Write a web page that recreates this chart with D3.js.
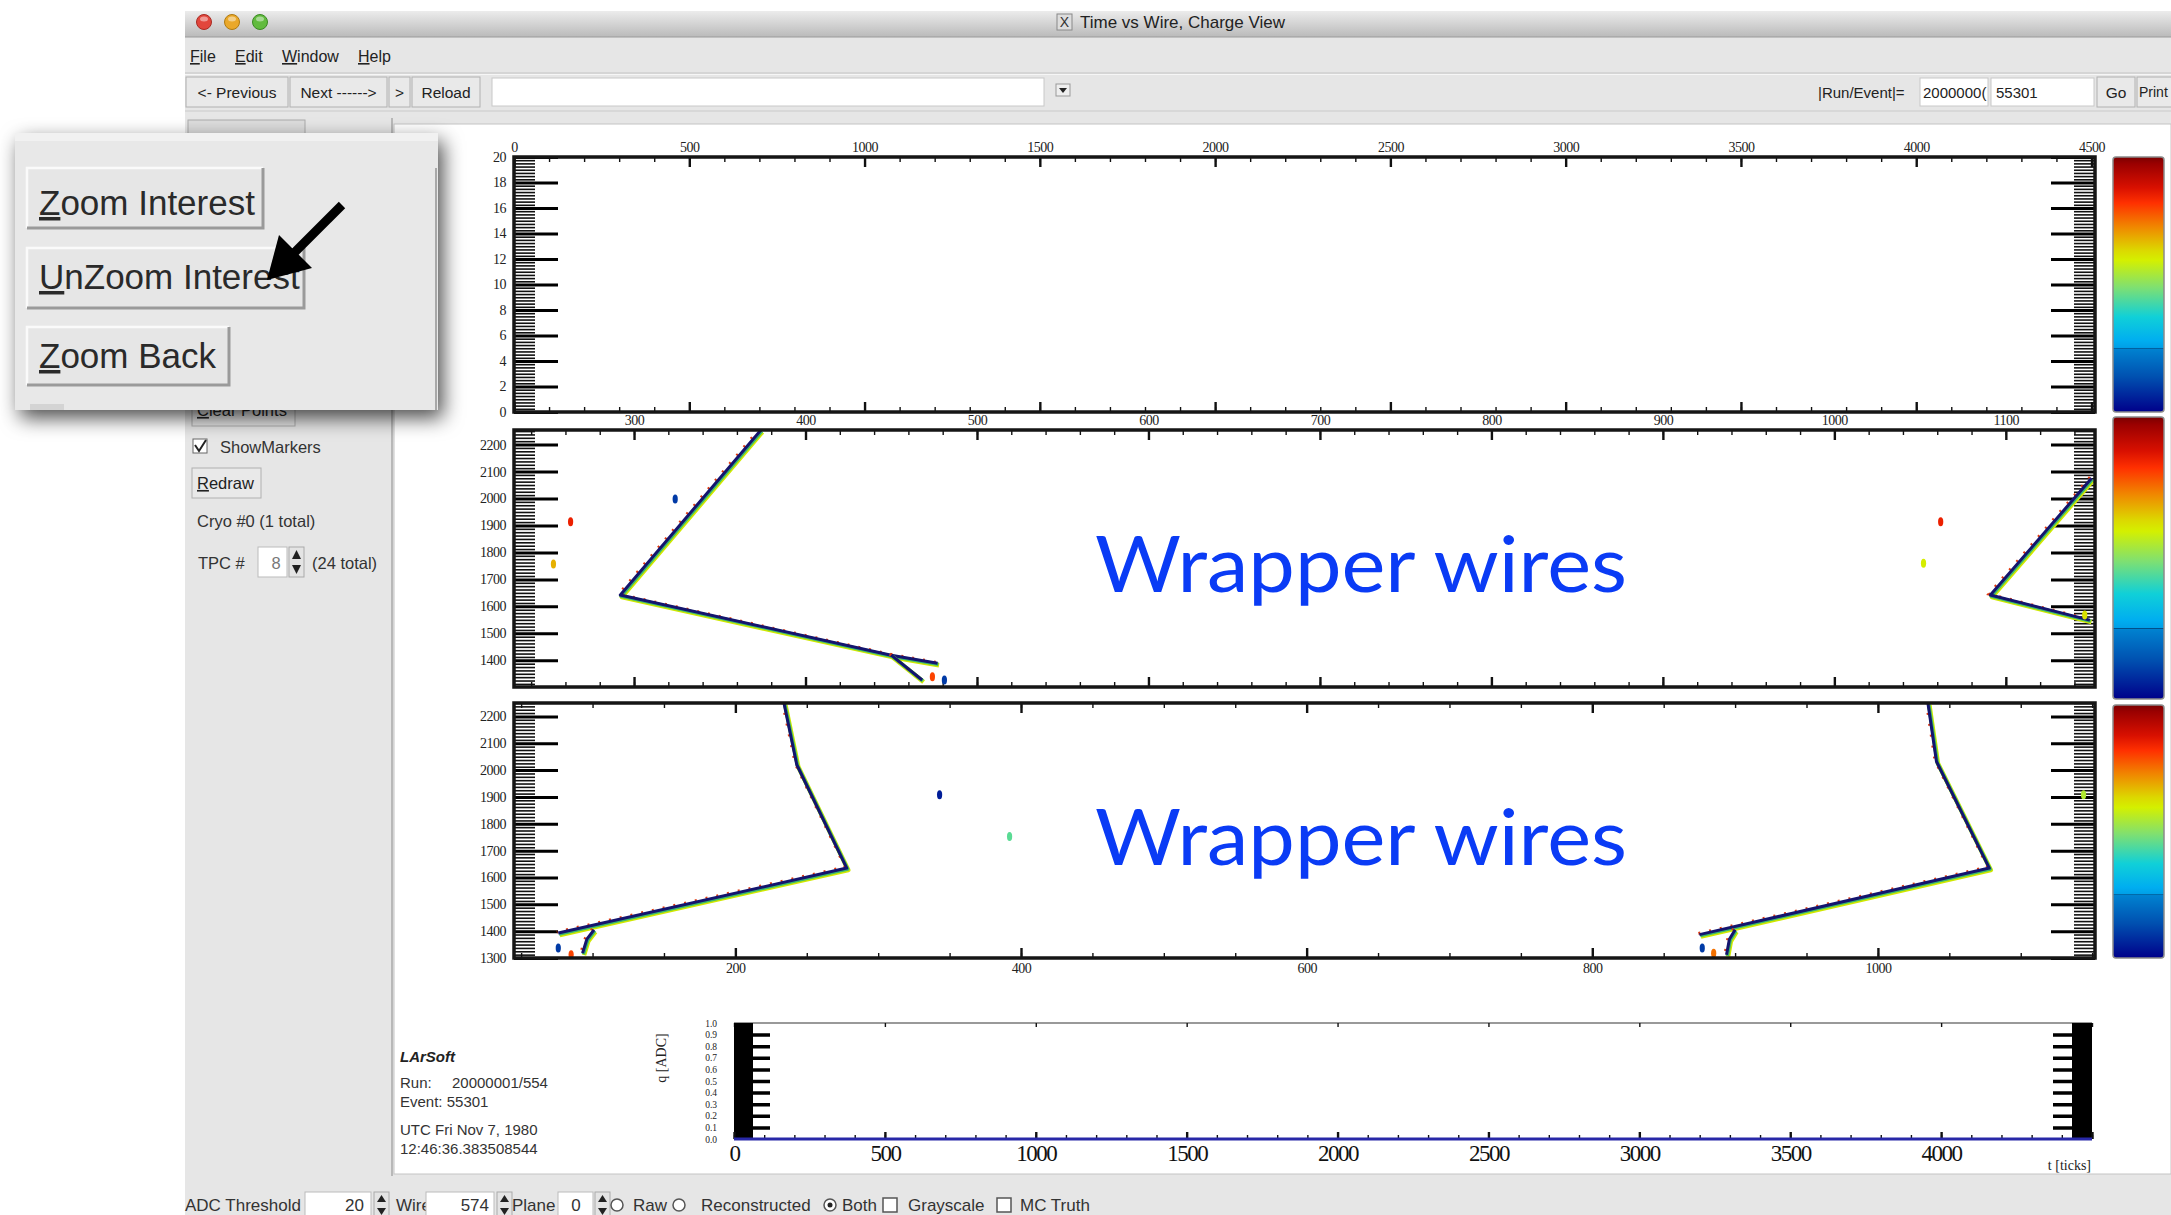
<!DOCTYPE html>
<html>
<head>
<meta charset="utf-8">
<title>Time vs Wire, Charge View</title>
<script src="https://d3js.org/d3.v7.min.js"></script>
<style>
  body { margin: 0; background: #fff; }
  svg { display: block; font-family: "Liberation Sans", Arial, sans-serif; }
  .minor line { stroke: #111; stroke-width: 1.4; }
  .major line { stroke: #111; stroke-width: 2.4; }
  .comb line { stroke: #111; stroke-width: 1.6; }
  .combmaj line { stroke: #000; stroke-width: 3; }
  .lbl text { font-family: "Liberation Serif", serif; font-size: 14px; fill: #222; letter-spacing: -0.5px; }
  .adclbl text { font-family: "Liberation Serif", serif; font-size: 23px; fill: #111; letter-spacing: -1.5px; }
  .adcy text { font-family: "Liberation Serif", serif; font-size: 9.5px; fill: #222; }
  .bar line { stroke: #000; stroke-width: 3.5; }
</style>
</head>
<body>
<svg id="view" width="2171" height="1215"></svg>
<script>
// ---- values ----
var menuItems = ["File", "Edit", "Window", "Help"];
var navButtons = ["<- Previous", "Next ------>", ">", "Reload"];
var zoomButtons = ["Zoom Interest", "UnZoom Interest", "Zoom Back"];
var infoLines = ["Run:", "Event: 55301", "UTC Fri Nov 7, 1980", "12:46:36.383508544"];

var tickAxisValues = [0, 500, 1000, 1500, 2000, 2500, 3000, 3500, 4000, 4500];
var emptyWireValues = [0, 2, 4, 6, 8, 10, 12, 14, 16, 18, 20];
var midWireValues = [300, 400, 500, 600, 700, 800, 900, 1000, 1100];
var midTimeValues = [1400, 1500, 1600, 1700, 1800, 1900, 2000, 2100, 2200];
var botWireValues = [200, 400, 600, 800, 1000];
var botTimeValues = [1300, 1400, 1500, 1600, 1700, 1800, 1900, 2000, 2100, 2200];
var adcTimeValues = [0, 500, 1000, 1500, 2000, 2500, 3000, 3500, 4000];
var adcChargeValues = [0, 0.1, 0.2, 0.3, 0.4, 0.5, 0.6, 0.7, 0.8, 0.9, 1.0];

// hit tracks, [wire, tick]
var midTrackA = [[374, 2254], [292, 1642], [450, 1419], [477, 1389]];
var midTrackB = [[450, 1419], [468, 1327]];
var midTrackC = [[1150, 2075], [1091, 1642], [1149, 1549]];
var botTrackA = [[234, 2250], [243, 2020], [278, 1635], [76, 1393]];
var botTrackB = [[101, 1405], [96, 1370], [93, 1318]];
var botTrackC = [[1035, 2250], [1041, 2032], [1078, 1635], [875, 1387]];
var botTrackD = [[900, 1405], [896, 1370], [894, 1312]];

// isolated hits, [wire, tick, charge 0..1]
var midHits = [[263, 1914, 0.85], [253, 1757, 0.68], [324, 1998, 0.1], [1062, 1914, 0.85],
               [1052, 1760, 0.6], [474, 1339, 0.8], [481, 1327, 0.1], [1146, 1568, 0.62]];
var botHits = [[343, 1908, 0.05], [392, 1753, 0.45], [76, 1337, 0.1], [85, 1312, 0.8],
               [877, 1337, 0.1], [885, 1318, 0.75], [1144, 1908, 0.55]];

// charge waveform on the selected wire (flat)
var adcWave = [[0, 0], [4500, 0]];

// colour palette, charge value -> colour
var paletteStops = [0, 0.137, 0.247, 0.25, 0.253, 0.28, 0.373, 0.49, 0.595, 0.634, 0.725, 0.82, 0.88, 0.974, 1];
var paletteColors = ["#00008a", "#0050b0", "#0082d0", "#00508a", "#00a0e8", "#00aef0", "#10d0d8", "#80e070",
                     "#d4f000", "#dcd800", "#f08800", "#ff3000", "#d81000", "#9a0000", "#7a0000"];

var palette = d3.scaleLinear().domain(paletteStops).range(paletteColors).clamp(true);
var intFmt = d3.format("d");

var svg = d3.select("#view");
var defs = svg.append("defs");

// ---- window chrome ----
svg.append("rect").attr("width", 2171).attr("height", 1215).attr("fill", "#fff");
svg.append("rect").attr("x", 185).attr("y", 11).attr("width", 1986).attr("height", 1204).attr("fill", "#e6e6e6");

var tg = defs.append("linearGradient").attr("id", "titleGrad").attr("x1", 0).attr("x2", 0).attr("y1", 0).attr("y2", 1);
tg.append("stop").attr("offset", "0%").attr("stop-color", "#ececec");
tg.append("stop").attr("offset", "100%").attr("stop-color", "#bababa");
svg.append("rect").attr("x", 185).attr("y", 11).attr("width", 1986).attr("height", 26).attr("fill", "url(#titleGrad)");
svg.append("line").attr("x1", 185).attr("x2", 2171).attr("y1", 37).attr("y2", 37).attr("stroke", "#9a9a9a");

[["#e2463c", "#a82a22"], ["#eaa82a", "#b07a10"], ["#62bb3e", "#3a8a22"]].forEach(function (c, i) {
  svg.append("circle").attr("cx", 204 + i * 28).attr("cy", 22).attr("r", 7.5)
    .attr("fill", c[0]).attr("stroke", c[1]).attr("stroke-width", 1);
  svg.append("ellipse").attr("cx", 204 + i * 28).attr("cy", 19).attr("rx", 4).attr("ry", 2.5)
    .attr("fill", "#fff").attr("opacity", 0.45);
});
svg.append("rect").attr("x", 1057).attr("y", 14).attr("width", 15).attr("height", 16).attr("fill", "#ddd").attr("stroke", "#888");
svg.append("text").attr("x", 1064.5).attr("y", 27).attr("text-anchor", "middle").attr("font-size", 14).attr("fill", "#333").text("X");
svg.append("text").attr("x", 1080).attr("y", 28).attr("font-size", 17)
  .attr("font-family", "'Liberation Sans Narrow', 'Liberation Sans', sans-serif").attr("fill", "#222")
  .text("Time vs Wire, Charge View");

// menu
var menuX = [190, 235, 282, 358];
menuItems.forEach(function (m, i) {
  var t = svg.append("text").attr("x", menuX[i]).attr("y", 62).attr("font-size", 16).attr("fill", "#222");
  t.append("tspan").attr("text-decoration", "underline").text(m[0]);
  t.append("tspan").text(m.slice(1));
});
svg.append("line").attr("x1", 185).attr("x2", 2171).attr("y1", 73).attr("y2", 73).attr("stroke", "#c4c4c4");
svg.append("line").attr("x1", 185).attr("x2", 2171).attr("y1", 74.5).attr("y2", 74.5).attr("stroke", "#f6f6f6");

function button(x, y, w, h, label, size, underline) {
  svg.append("rect").attr("x", x).attr("y", y).attr("width", w).attr("height", h)
    .attr("fill", "#e9e9e9").attr("stroke", "#b0b0b0");
  var t = svg.append("text").attr("x", x + w / 2).attr("y", y + h / 2 + size * 0.36)
    .attr("text-anchor", "middle").attr("font-size", size).attr("fill", "#222");
  if (underline) {
    t.attr("text-anchor", "start").attr("x", x + 5);
    t.append("tspan").attr("text-decoration", "underline").text(label[0]);
    t.append("tspan").text(label.slice(1));
  } else t.text(label);
}

var navX = [[186, 102], [290, 97], [389, 21], [412, 68]];
navButtons.forEach(function (b, i) { button(navX[i][0], 77, navX[i][1], 30, b, 15.5, false); });
svg.append("rect").attr("x", 492).attr("y", 78).attr("width", 552).attr("height", 28).attr("fill", "#fff").attr("stroke", "#c8c8c8");
svg.append("rect").attr("x", 1056).attr("y", 84).attr("width", 14).attr("height", 12).attr("fill", "#eee").attr("stroke", "#999");
svg.append("path").attr("d", "M1059,88 L1067,88 L1063,93 Z").attr("fill", "#222");

svg.append("text").attr("x", 1818).attr("y", 98).attr("font-size", 15).attr("fill", "#222").text("|Run/Event|=");
svg.append("rect").attr("x", 1920).attr("y", 78).attr("width", 68).attr("height", 28).attr("fill", "#fff").attr("stroke", "#c8c8c8");
svg.append("text").attr("x", 1923).attr("y", 98).attr("font-size", 15).attr("fill", "#222").text("2000000(");
svg.append("rect").attr("x", 1991).attr("y", 78).attr("width", 103).attr("height", 28).attr("fill", "#fff").attr("stroke", "#c8c8c8");
svg.append("text").attr("x", 1996).attr("y", 98).attr("font-size", 15).attr("fill", "#222").text("55301");
button(2097, 77, 38, 30, "Go", 15.5, false);
svg.append("rect").attr("x", 2137).attr("y", 77).attr("width", 44).attr("height", 30).attr("fill", "#e9e9e9").attr("stroke", "#b0b0b0");
svg.append("text").attr("x", 2139).attr("y", 97).attr("font-size", 14).attr("fill", "#222").text("Print");
svg.append("line").attr("x1", 185).attr("x2", 2171).attr("y1", 111).attr("y2", 111).attr("stroke", "#cacaca");

// tab strip + sidebar + canvas
svg.append("rect").attr("x", 188).attr("y", 120).attr("width", 117).attr("height", 16).attr("fill", "#dcdcdc").attr("stroke", "#aaa");
svg.append("line").attr("x1", 392).attr("x2", 392).attr("y1", 118).attr("y2", 1176).attr("stroke", "#b8b8b8").attr("stroke-width", 2);
svg.append("rect").attr("x", 394).attr("y", 124).attr("width", 1777).attr("height", 1050).attr("fill", "#fff").attr("stroke", "#c4c4c4");

// sidebar widgets
button(192, 394, 103, 32, "Clear Points", 16.5, true);
svg.append("rect").attr("x", 193).attr("y", 439).attr("width", 14).attr("height", 14).attr("fill", "#fff").attr("stroke", "#666");
svg.append("path").attr("d", "M195,445 L199,451 L206,440").attr("fill", "none").attr("stroke", "#222").attr("stroke-width", 2);
svg.append("text").attr("x", 220).attr("y", 453).attr("font-size", 16.5).attr("fill", "#333").text("ShowMarkers");
button(192, 468, 69, 30, "Redraw", 16.5, true);
svg.append("text").attr("x", 197).attr("y", 527).attr("font-size", 16.5).attr("fill", "#333").text("Cryo #0 (1 total)");
svg.append("text").attr("x", 198).attr("y", 569).attr("font-size", 16.5).attr("fill", "#333").text("TPC   #");
svg.append("rect").attr("x", 258).attr("y", 547).attr("width", 29).attr("height", 30).attr("fill", "#fff").attr("stroke", "#bbb");
svg.append("text").attr("x", 276).attr("y", 569).attr("font-size", 16.5).attr("text-anchor", "middle").attr("fill", "#777").text("8");
function spinner(x, y, h) {
  svg.append("rect").attr("x", x).attr("y", y).attr("width", 15).attr("height", h).attr("fill", "#e4e4e4").attr("stroke", "#aaa");
  svg.append("path").attr("d", "M" + (x + 3) + "," + (y + h / 2 - 3) + " L" + (x + 12) + "," + (y + h / 2 - 3) + " L" + (x + 7.5) + "," + (y + 3) + " Z").attr("fill", "#222");
  svg.append("path").attr("d", "M" + (x + 3) + "," + (y + h / 2 + 3) + " L" + (x + 12) + "," + (y + h / 2 + 3) + " L" + (x + 7.5) + "," + (y + h - 3) + " Z").attr("fill", "#222");
}
spinner(289, 547, 30);
svg.append("text").attr("x", 312).attr("y", 569).attr("font-size", 16.5).attr("fill", "#333").text("(24 total)");

// ---- panels ----
var L = 514, R = 2095;
var xTop = d3.scaleLinear().domain([0, 4510]).range([L, R]);
var yTop = d3.scaleLinear().domain([0, 20]).range([412, 157]);
var xMid = d3.scaleLinear().domain([230, 1152]).range([L, R]);
var yMid = d3.scaleLinear().domain([1301, 2254]).range([687, 430]);
var xBot = d3.scaleLinear().domain([45, 1152]).range([L, R]);
var yBot = d3.scaleLinear().domain([1300, 2250]).range([958, 703]);

function axisG(parent, tr, axis, cls) {
  var g = parent.append("g").attr("class", cls).attr("transform", tr).call(axis);
  g.select(".domain").remove();
  g.attr("font-family", null).attr("font-size", null);
  return g;
}

function minorValues(scale, step) {
  var d = scale.domain();
  return d3.range(Math.ceil(d[0] / step) * step, d[1] + 1e-6, step);
}

function drawPanel(x, y, xMajor, xStep, yMajor, yStep, labelSide) {
  var g = svg.append("g");
  var top = y.range()[1], bottom = y.range()[0];
  var xm = minorValues(x, xStep), ym = minorValues(y, yStep);

  axisG(g, "translate(0," + top + ")", d3.axisBottom(x).tickValues(xm).tickSize(5).tickFormat(""), "minor");
  axisG(g, "translate(0," + top + ")", d3.axisBottom(x).tickValues(xMajor).tickSize(10).tickFormat(""), "major");
  axisG(g, "translate(0," + bottom + ")", d3.axisTop(x).tickValues(xm).tickSize(5).tickFormat(""), "minor");
  axisG(g, "translate(0," + bottom + ")", d3.axisTop(x).tickValues(xMajor).tickSize(10).tickFormat(""), "major");
  if (labelSide === "top")
    axisG(g, "translate(0," + top + ")", d3.axisTop(x).tickValues(xMajor).tickSize(0).tickPadding(5).tickFormat(intFmt), "lbl");
  else
    axisG(g, "translate(0," + bottom + ")", d3.axisBottom(x).tickValues(xMajor).tickSize(0).tickPadding(5).tickFormat(intFmt), "lbl");

  axisG(g, "translate(" + L + ",0)", d3.axisRight(y).tickValues(ym).tickSize(21).tickFormat(""), "comb");
  axisG(g, "translate(" + L + ",0)", d3.axisRight(y).tickValues(yMajor).tickSize(44).tickFormat(""), "combmaj");
  axisG(g, "translate(" + R + ",0)", d3.axisLeft(y).tickValues(ym).tickSize(21).tickFormat(""), "comb");
  axisG(g, "translate(" + R + ",0)", d3.axisLeft(y).tickValues(yMajor).tickSize(44).tickFormat(""), "combmaj");
  axisG(g, "translate(" + L + ",0)", d3.axisLeft(y).tickValues(yMajor).tickSize(0).tickPadding(8).tickFormat(intFmt), "lbl");
  return g;
}

function frame(y) {
  var top = y.range()[1], bottom = y.range()[0];
  svg.append("rect").attr("x", L).attr("y", top).attr("width", R - L).attr("height", bottom - top)
    .attr("fill", "none").attr("stroke", "#151515").attr("stroke-width", 3.5);
}

function drawTrack(g, pts, x, y) {
  var line = d3.line().x(function (d) { return x(d[0]); }).y(function (d) { return y(d[1]); });
  g.append("path").datum(pts).attr("d", line).attr("transform", "translate(1.5,2)")
    .attr("fill", "none").attr("stroke", "#cfe800").attr("stroke-width", 4.5).attr("stroke-linejoin", "round");
  g.append("path").datum(pts).attr("d", line).attr("transform", "translate(0.8,1)")
    .attr("fill", "none").attr("stroke", "#38b870").attr("stroke-width", 3.5).attr("stroke-linejoin", "round");
  g.append("path").datum(pts).attr("d", line).attr("transform", "translate(-1.5,-1)")
    .attr("fill", "none").attr("stroke", "#e03a10").attr("stroke-width", 3).attr("stroke-dasharray", "2,9");
  g.append("path").datum(pts).attr("d", line)
    .attr("fill", "none").attr("stroke", "#14146e").attr("stroke-width", 3).attr("stroke-linejoin", "round");
}

function drawHits(g, hits, x, y) {
  g.selectAll(null).data(hits).enter().append("ellipse")
    .attr("cx", function (d) { return x(d[0]); })
    .attr("cy", function (d) { return y(d[1]); })
    .attr("rx", 2.6).attr("ry", 4.5)
    .attr("fill", function (d) { return palette(d[2]); });
}

function clipFor(id, y) {
  var top = y.range()[1], bottom = y.range()[0];
  defs.append("clipPath").attr("id", id).append("rect")
    .attr("x", L).attr("y", top).attr("width", R - L).attr("height", bottom - top);
  return svg.append("g").attr("clip-path", "url(#" + id + ")");
}

drawPanel(xTop, yTop, tickAxisValues, 100, emptyWireValues, 0.25, "top");
frame(yTop);

drawPanel(xMid, yMid, midWireValues, 20, midTimeValues, 12.5, "top");
var midG = clipFor("clipMid", yMid);
[midTrackA, midTrackB, midTrackC].forEach(function (t) { drawTrack(midG, t, xMid, yMid); });
drawHits(midG, midHits, xMid, yMid);
frame(yMid);

drawPanel(xBot, yBot, botWireValues, 50, botTimeValues, 12.5, "bottom");
var botG = clipFor("clipBot", yBot);
[botTrackA, botTrackB, botTrackC, botTrackD].forEach(function (t) { drawTrack(botG, t, xBot, yBot); });
drawHits(botG, botHits, xBot, yBot);
frame(yBot);

// colour bars
var pg = defs.append("linearGradient").attr("id", "pal").attr("x1", 0).attr("x2", 0).attr("y1", 1).attr("y2", 0);
paletteStops.forEach(function (s, i) {
  pg.append("stop").attr("offset", s).attr("stop-color", paletteColors[i]);
});
[[157, 412], [417, 699], [705, 958]].forEach(function (b) {
  svg.append("rect").attr("x", 2113).attr("y", b[0]).attr("width", 51).attr("height", b[1] - b[0])
    .attr("rx", 3).attr("fill", "url(#pal)").attr("stroke", "#8a8a8a").attr("stroke-width", 1.5);
});

// overlay labels
["Wrapper wires", "Wrapper wires"].forEach(function (s, i) {
  svg.append("text").attr("x", 1095).attr("y", i === 0 ? 592 : 865)
    .attr("font-family", "Lato, 'Open Sans', sans-serif").attr("font-size", 78)
    .attr("textLength", 532).attr("lengthAdjust", "spacingAndGlyphs")
    .attr("fill", "#0a3bf5").text(s);
});

// ---- event info ----
svg.append("text").attr("x", 400).attr("y", 1062).attr("font-size", 15).attr("font-weight", "bold")
  .attr("font-style", "italic").attr("fill", "#222").text("LArSoft");
var infoY = [1088, 1107, 1135, 1154];
infoLines.forEach(function (s, i) {
  svg.append("text").attr("x", 400).attr("y", infoY[i]).attr("font-size", 15).attr("fill", "#333").text(s);
});
svg.append("text").attr("x", 452).attr("y", 1088).attr("font-size", 15).attr("fill", "#333").text("20000001/554");

// ---- ADC waveform plot ----
var xAdc = d3.scaleLinear().domain([0, 4500]).range([734, 2092]);
var yAdc = d3.scaleLinear().domain([0, 1]).range([1139, 1023]);
svg.append("line").attr("x1", 734).attr("x2", 2092).attr("y1", 1023).attr("y2", 1023).attr("stroke", "#999").attr("stroke-width", 2);
axisG(svg, "translate(0,1023)", d3.axisBottom(xAdc).tickValues(tickAxisValues).tickSize(4).tickFormat(""), "minor");
svg.append("rect").attr("x", 734).attr("y", 1023).attr("width", 19).attr("height", 116).attr("fill", "#000");
svg.append("rect").attr("x", 2072).attr("y", 1023).attr("width", 20).attr("height", 116).attr("fill", "#000");
var inner = adcChargeValues.slice(1, 10);
axisG(svg, "translate(734,0)", d3.axisRight(yAdc).tickValues(inner).tickSize(36).tickFormat(""), "bar");
axisG(svg, "translate(2092,0)", d3.axisLeft(yAdc).tickValues(inner).tickSize(39).tickFormat(""), "bar");
axisG(svg, "translate(0,1139)", d3.axisTop(xAdc).tickValues(minorValues(xAdc, 100)).tickSize(4).tickFormat(""), "minor");
axisG(svg, "translate(0,1139)", d3.axisTop(xAdc).tickValues(tickAxisValues).tickSize(7).tickFormat(""), "major");
svg.append("path").datum(adcWave)
  .attr("d", d3.line().x(function (d) { return xAdc(d[0]); }).y(function (d) { return yAdc(d[1]); }))
  .attr("stroke", "#2828a8").attr("stroke-width", 3).attr("fill", "none");
axisG(svg, "translate(0,1139)", d3.axisBottom(xAdc).tickValues(adcTimeValues).tickSize(0).tickPadding(6).tickFormat(intFmt), "adclbl");
axisG(svg, "translate(734,0)", d3.axisLeft(yAdc).tickValues(adcChargeValues).tickSize(0).tickPadding(17).tickFormat(d3.format(".1f")), "adcy");
svg.append("text").attr("transform", "translate(666,1058) rotate(-90)").attr("text-anchor", "middle")
  .attr("font-family", "'Liberation Serif', serif").attr("font-size", 14).attr("fill", "#222").text("q [ADC]");
svg.append("text").attr("x", 2091).attr("y", 1170).attr("text-anchor", "end")
  .attr("font-family", "'Liberation Serif', serif").attr("font-size", 14).attr("fill", "#222").text("t [ticks]");

// ---- bottom control row ----
function lbl(x, s) { svg.append("text").attr("x", x).attr("y", 1211).attr("font-size", 17).attr("fill", "#333").text(s); }
function input(x, w, s, tx, anchor) {
  svg.append("rect").attr("x", x).attr("y", 1192).attr("width", w).attr("height", 26).attr("fill", "#fff").attr("stroke", "#bbb");
  svg.append("text").attr("x", tx).attr("y", 1211).attr("font-size", 17).attr("text-anchor", anchor).attr("fill", "#333").text(s);
}
function radio(x, on) {
  svg.append("circle").attr("cx", x).attr("cy", 1205).attr("r", 6).attr("fill", "#fff").attr("stroke", "#555").attr("stroke-width", 1.5);
  if (on) svg.append("circle").attr("cx", x).attr("cy", 1205).attr("r", 2.5).attr("fill", "#222");
}
function check(x) {
  svg.append("rect").attr("x", x).attr("y", 1198).attr("width", 14).attr("height", 14).attr("fill", "#fff").attr("stroke", "#555").attr("stroke-width", 1.5);
}
lbl(185, "ADC Threshold"); input(305, 66, "20", 364, "end"); spinner(374, 1192, 26);
lbl(396, "Wire"); input(426, 68, "574", 489, "end"); spinner(497, 1192, 26);
lbl(512, "Plane"); input(558, 35, "0", 576, "middle"); spinner(595, 1192, 26);
radio(617, false); lbl(633, "Raw");
radio(679, false); lbl(701, "Reconstructed");
radio(830, true); lbl(842, "Both");
check(883); lbl(908, "Grayscale");
check(997); lbl(1020, "MC Truth");

// ---- magnified zoom-button popup ----
var sh = defs.append("filter").attr("id", "shadow").attr("x", "-20%").attr("y", "-20%").attr("width", "150%").attr("height", "150%");
sh.append("feDropShadow").attr("dx", 5).attr("dy", 8).attr("stdDeviation", 10).attr("flood-color", "#000").attr("flood-opacity", 0.7);

var pop = svg.append("g");
pop.append("rect").attr("x", 15).attr("y", 133).attr("width", 423).attr("height", 277)
  .attr("fill", "#e8e8e8").attr("filter", "url(#shadow)");
pop.append("rect").attr("x", 15).attr("y", 133).attr("width", 423).attr("height", 8).attr("fill", "#f1f1f1");
pop.append("line").attr("x1", 436).attr("x2", 436).attr("y1", 168).attr("y2", 410).attr("stroke", "#a8a8a8").attr("stroke-width", 2);
pop.append("rect").attr("x", 30).attr("y", 404).attr("width", 34).attr("height", 6).attr("fill", "#d4d4d4");

var popBtn = [[27, 168, 236, 60, 215], [27, 248, 277, 60, 289], [27, 327, 202, 58, 368]];
zoomButtons.forEach(function (b, i) {
  var p = popBtn[i];
  pop.append("rect").attr("x", p[0]).attr("y", p[1]).attr("width", p[2]).attr("height", p[3]).attr("fill", "#e6e6e6");
  pop.append("path").attr("d", "M" + p[0] + "," + (p[1] + p[3]) + " L" + p[0] + "," + p[1] + " L" + (p[0] + p[2]) + "," + p[1])
    .attr("fill", "none").attr("stroke", "#fafafa").attr("stroke-width", 2.5);
  pop.append("path").attr("d", "M" + p[0] + "," + (p[1] + p[3]) + " L" + (p[0] + p[2]) + "," + (p[1] + p[3]) + " L" + (p[0] + p[2]) + "," + p[1])
    .attr("fill", "none").attr("stroke", "#9a9a9a").attr("stroke-width", 3);
  var t = pop.append("text").attr("x", p[0] + 12).attr("y", p[4]).attr("font-size", 35).attr("fill", "#2a2a2a");
  t.append("tspan").attr("text-decoration", "underline").text(b[0]);
  t.append("tspan").text(b.slice(1));
});

// pointer arrow
pop.append("line").attr("x1", 342).attr("y1", 205).attr("x2", 292).attr("y2", 255)
  .attr("stroke", "#000").attr("stroke-width", 9);
pop.append("path").attr("d", "M267,280 L279,235 L312,268 Z").attr("fill", "#000");
</script>
</body>
</html>
